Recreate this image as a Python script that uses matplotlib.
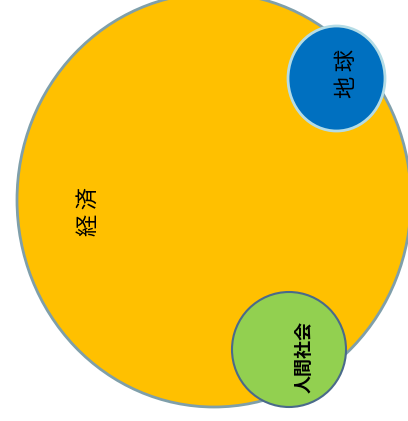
import matplotlib.pyplot as plt
from matplotlib.patches import Ellipse

plt.rcParams['font.family'] = ['Noto Sans CJK JP', 'DejaVu Sans']

# bubble data (pixel units of the original picture)
labels = ["経\u2009済", "地\u2009球", "人間社会"]
center_x = [214, 336.5, 289]
center_y = [200, 78.5, 349.5]
width = [394, 97, 114]
height = [414, 105, 115]
fills = ["#FFC000", "#0070C0", "#92D050"]
edges = ["#7F9FAA", "#B4DCE6", "#4A6A8A"]
edge_width = [2, 2, 1.5]
label_x = [88, 346, 304]
label_y = [212, 74, 357]
label_size = [16, 16, 13]
label_weight = ["normal", "normal", "bold"]

fig = plt.figure(figsize=(4.08, 4.21), dpi=100)
ax = fig.add_axes([0, 0, 1, 1])
ax.set_xlim(0, 408)
ax.set_ylim(421, 0)
ax.axis("off")

for i in range(len(labels)):
    e = Ellipse((center_x[i], center_y[i]), width[i], height[i],
                facecolor=fills[i], edgecolor=edges[i],
                linewidth=edge_width[i], zorder=i + 1)
    ax.add_patch(e)
    ax.text(label_x[i], label_y[i], labels[i], rotation=90,
            ha="center", va="center", fontsize=label_size[i],
            fontweight=label_weight[i], color="black", zorder=10)

fig.savefig("out.png", dpi=100)
